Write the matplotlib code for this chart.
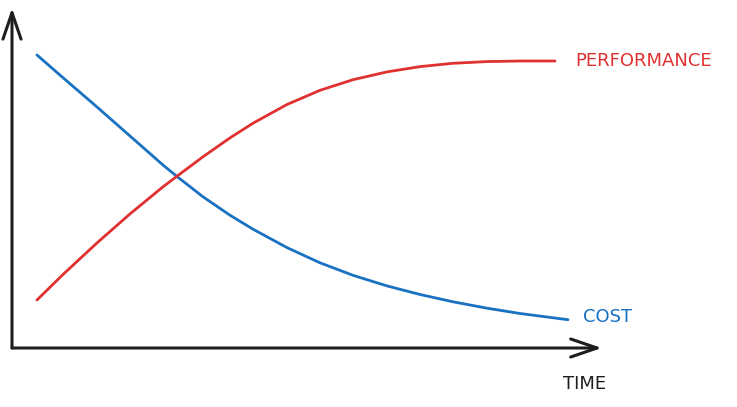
import matplotlib.pyplot as plt

# sketch-style chart: cost falls, performance rises over time
time_cost = [4.25, 8.67, 14.46, 20.07, 25.68, 28.06, 32.48, 37.07, 40.99, 46.77,
             52.38, 57.99, 63.78, 69.39, 75.0, 80.78, 86.39, 94.56]
cost = [86.18, 79.5, 70.88, 62.35, 53.82, 50.44, 44.47, 39.06, 34.94, 29.53,
        25.06, 21.38, 18.26, 15.74, 13.59, 11.71, 10.15, 8.32]

time_perf = [4.25, 8.67, 14.46, 20.07, 25.68, 28.06, 32.48, 37.07, 40.99, 46.77,
             52.38, 57.99, 63.78, 69.39, 75.0, 80.78, 86.39, 92.35]
performance = [14.12, 21.62, 30.91, 39.44, 47.41, 50.53, 56.24, 61.79, 66.12, 71.62,
               75.79, 78.91, 81.21, 82.76, 83.74, 84.24, 84.41, 84.41]

RED = "#e03131"
BLUE = "#1971c2"
INK = "#1e1e1e"

fig = plt.figure(figsize=(7.37, 4.07), dpi=100)
ax = fig.add_axes([12 / 737, 59 / 407, 588 / 737, 340 / 407])
ax.set_xlim(0, 100)
ax.set_ylim(0, 100)
ax.axis("off")

ax.plot(time_cost, cost, color=BLUE, lw=2, solid_capstyle="round",
        solid_joinstyle="round", clip_on=False)
ax.plot(time_perf, performance, color=RED, lw=2, solid_capstyle="round",
        solid_joinstyle="round", clip_on=False)

# hand drawn axes with open arrow heads
arrow = dict(arrowstyle="->,head_length=1.9,head_width=0.65", lw=2.2, color=INK,
             shrinkA=0, shrinkB=0)
ax.annotate("", xy=(0, 100), xytext=(0, 0), arrowprops=arrow, annotation_clip=False)
ax.annotate("", xy=(100.3, 0), xytext=(0, 0), arrowprops=arrow, annotation_clip=False)

txt = dict(fontsize=13, fontfamily="DejaVu Sans", va="center", ha="left")
ax.text(95.8, 84.4, "PERFORMANCE", color=RED, **txt)
ax.text(97.1, 9.0, "COST", color=BLUE, **txt)
ax.text(93.7, -10.5, "TIME", color=INK, **txt)

fig.savefig("out.png", dpi=100, facecolor="white")
